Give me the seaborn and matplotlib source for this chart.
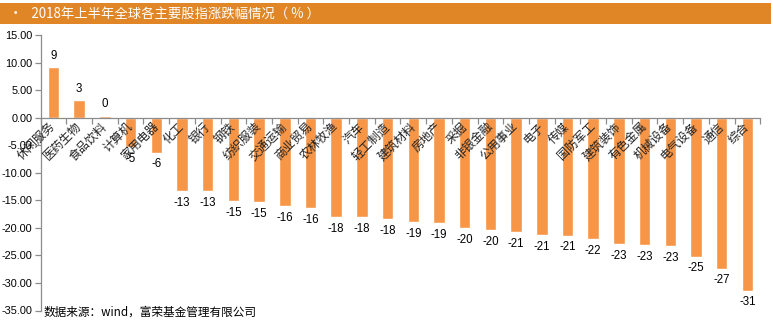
import matplotlib
matplotlib.use("Agg")
import matplotlib.pyplot as plt
from matplotlib.patches import Rectangle
import seaborn as sns
import pandas as pd
import numpy as np

categories = ["休闲服务", "医药生物", "食品饮料", "计算机", "家用电器", "化工", "银行", "钢铁",
              "纺织服装", "交通运输", "商业贸易", "农林牧渔", "汽车", "轻工制造", "建筑材料", "房地产",
              "采掘", "非银金融", "公用事业", "电子", "传媒", "国防军工", "建筑装饰", "有色金属",
              "机械设备", "电气设备", "通信", "综合"]
values = [9.15, 3.15, 0.3, -5.4, -6.4, -13.35, -13.4, -15.2,
          -15.3, -16.1, -16.4, -18.1, -18.1, -18.4, -19.0, -19.2,
          -20.1, -20.4, -20.8, -21.3, -21.4, -22.1, -23.0, -23.2,
          -23.3, -25.2, -27.4, -31.4]
yticks = [15, 10, 5, 0, -5, -10, -15, -20, -25, -30, -35]
title = "•   2018年上半年全球各主要股指涨跌幅情况（ % ）"
source = "数据来源：wind，富荣基金管理有限公司"

sns.set_theme(style="white")
plt.rcParams['font.family'] = ['Noto Sans CJK SC', 'DejaVu Sans']
plt.rcParams['axes.axisbelow'] = False

W, H = 772, 321
fig = plt.figure(figsize=(W / 100, H / 100), dpi=100)
ax = fig.add_axes([40.65 / W, 1 - 310.5 / H, (760.25 - 40.65) / W, (310.5 - 35) / H])

df = pd.DataFrame({"cat": categories, "val": values})
sns.barplot(data=df, x="cat", y="val", order=categories, color="#F79646",
            saturation=1, width=0.45, ax=ax)
ax.set_axisbelow(False)

ax.set_xlim(-0.5, len(categories) - 0.5)
ax.set_ylim(-35, 15)
ax.set_xlabel("")
ax.set_ylabel("")

for s in ["top", "right"]:
    ax.spines[s].set_visible(False)
ax.spines["bottom"].set_position(("data", 0))
ax.spines["left"].set_color("#8C8C8C")
ax.spines["bottom"].set_color("#8C8C8C")
ax.spines["left"].set_linewidth(0.9)
ax.spines["bottom"].set_linewidth(0.9)

ax.set_yticks(yticks)
ax.set_yticklabels([f"{v:.2f}" for v in yticks], fontsize=7.8,
                   family=["Liberation Sans", "DejaVu Sans"], color="black")
ax.tick_params(axis="y", which="major", left=True, length=4, width=0.9,
               color="#8C8C8C", pad=2, direction="out")

ax.set_xticks(range(len(categories)))
ax.set_xticklabels(categories, rotation=45, ha="right", va="center",
                   rotation_mode="anchor", fontsize=8.6, color="#222222")
ax.tick_params(axis="x", which="major", bottom=True, length=0, pad=5)
ax.set_xticks(np.arange(-0.5, len(categories), 1), minor=True)
ax.tick_params(axis="x", which="minor", bottom=True, length=4, width=0.9,
               color="#8C8C8C", direction="out")

labels = [f"{v:.0f}" if abs(round(v)) > 0 else "0" for v in values]
ax.bar_label(ax.containers[0], labels=labels, padding=4, fontsize=8.3,
             family=["Liberation Sans", "DejaVu Sans"], color="black")

# title bar
fig.patches.append(Rectangle((0, 1 - 24 / H), 771 / W, 21.3 / H, transform=fig.transFigure,
                             facecolor="#E08626", edgecolor="none", zorder=0))
fig.text(9 / W, 1 - 13.5 / H, title, color="white", fontsize=9.6, va="center", ha="left")

fig.text(43 / W, 1 - 312 / H, source, color="black", fontsize=8.4, va="center", ha="left")

fig.savefig("out.png", dpi=100)
